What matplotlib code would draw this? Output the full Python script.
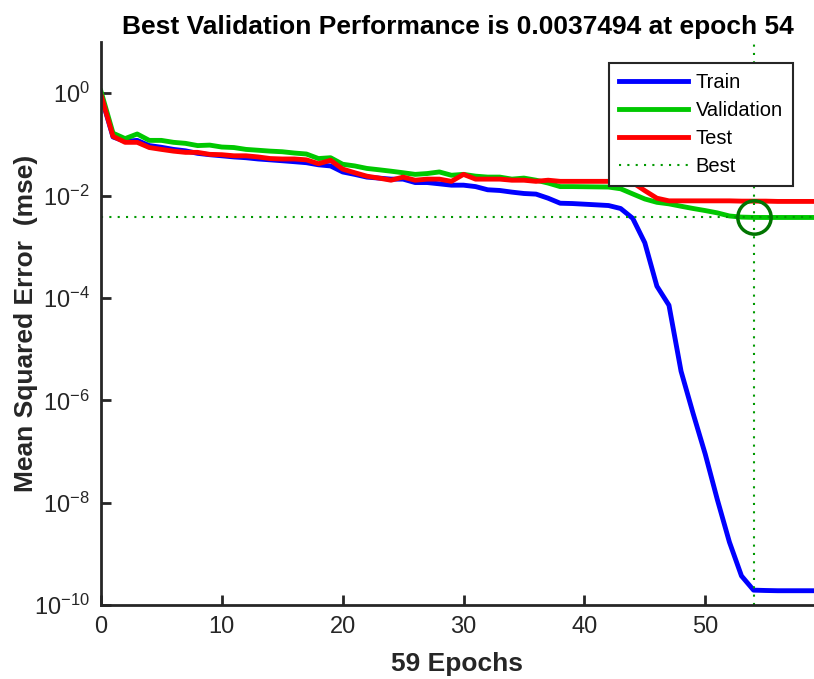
import numpy as np
import matplotlib
matplotlib.use("Agg")
import matplotlib.pyplot as plt
from matplotlib import font_manager

plt.rcParams['font.family'] = ['Liberation Sans', 'DejaVu Sans']

# narrow face for the tick numbers if it is there
names = {f.name for f in font_manager.fontManager.ttflist}
tick_font = 'Liberation Sans Narrow' if 'Liberation Sans Narrow' in names else 'Liberation Sans'
plt.rcParams['mathtext.fontset'] = 'custom'
plt.rcParams['mathtext.rm'] = tick_font
plt.rcParams['mathtext.default'] = 'regular'

# training record (mse per epoch)
epochs = np.arange(0, 60)
train = [0.9, 0.14, 0.115, 0.12, 0.095, 0.088, 0.08, 0.075, 0.067, 0.063,
         0.06, 0.057, 0.055, 0.052, 0.05, 0.048, 0.046, 0.044, 0.04, 0.038,
         0.029, 0.026, 0.023, 0.022, 0.021, 0.021, 0.018, 0.018, 0.017, 0.016,
         0.016, 0.015, 0.013, 0.0126, 0.0117, 0.011, 0.0107, 0.0089, 0.0071, 0.007,
         0.0068, 0.0066, 0.0064, 0.0056, 0.0036, 0.0012, 1.7e-4, 7.2e-5, 3.7e-6, 5.5e-7,
         8.9e-8, 1.15e-8, 1.7e-9, 3.7e-10, 1.95e-10, 1.92e-10, 1.9e-10, 1.9e-10, 1.9e-10, 1.9e-10]
val = [1.1, 0.166, 0.13, 0.16, 0.12, 0.12, 0.11, 0.105, 0.095, 0.097,
       0.089, 0.087, 0.08, 0.077, 0.074, 0.072, 0.068, 0.065, 0.053, 0.055,
       0.041, 0.038, 0.034, 0.032, 0.030, 0.028, 0.026, 0.027, 0.029, 0.025,
       0.026, 0.024, 0.023, 0.023, 0.021, 0.022, 0.020, 0.0176, 0.015, 0.015,
       0.0149, 0.0148, 0.0147, 0.0136, 0.0108, 0.0086, 0.0074, 0.0069, 0.0062, 0.0056,
       0.0051, 0.0046, 0.0040, 0.0038, 0.0037494, 0.00374, 0.00374, 0.00374, 0.00374, 0.00374]
test = [0.93, 0.144, 0.11, 0.11, 0.087, 0.08, 0.074, 0.07, 0.07, 0.064,
        0.063, 0.06, 0.06, 0.057, 0.053, 0.052, 0.052, 0.05, 0.042, 0.049,
        0.033, 0.028, 0.024, 0.022, 0.020, 0.023, 0.020, 0.021, 0.021, 0.019,
        0.026, 0.021, 0.021, 0.021, 0.020, 0.020, 0.019, 0.020, 0.019, 0.019,
        0.019, 0.019, 0.019, 0.019, 0.018, 0.0125, 0.0089, 0.0079, 0.0079, 0.0079,
        0.0079, 0.0079, 0.0079, 0.0078, 0.0078, 0.0078, 0.0077, 0.0077, 0.0077, 0.0077]
best_epoch = 54
best_perf = 0.0037494

fig = plt.figure(figsize=(8.14, 6.79), dpi=100)
ax = fig.add_axes([0.124, 0.109, 0.876, 0.829])

ax.semilogy(epochs, train, color='#0000ff', lw=3.5, label='Train')
ax.semilogy(epochs, val, color='#00c800', lw=3.5, label='Validation')
ax.semilogy(epochs, test, color='#ff0000', lw=3.5, label='Test')
ax.axhline(best_perf, color='#009900', lw=1.5, ls=(0, (1, 3)), label='Best')
ax.axvline(best_epoch, color='#009900', lw=1.5, ls=(0, (1, 3)))
ax.plot(best_epoch, best_perf, 'o', mfc='none', mec='#007500', ms=24, mew=2.5)

ax.set_xlim(0, 59)
ax.set_ylim(1e-10, 10)
ax.set_xticks([0, 10, 20, 30, 40, 50])
ax.set_yticks([1e-10, 1e-8, 1e-6, 1e-4, 1e-2, 1e0])
ax.yaxis.set_minor_locator(matplotlib.ticker.NullLocator())

for s in ['top', 'right']:
    ax.spines[s].set_visible(False)
for s in ['left', 'bottom']:
    ax.spines[s].set_linewidth(2)
    ax.spines[s].set_color('#262626')
ax.tick_params(direction='in', length=7, width=2, labelsize=17, colors='#262626', pad=8)
for lab in ax.get_xticklabels() + ax.get_yticklabels():
    lab.set_family(tick_font)

ax.set_title('Best Validation Performance is 0.0037494 at epoch 54',
             fontsize=19, fontweight='bold', pad=6)
ax.set_xlabel('59 Epochs', fontsize=19, fontweight='bold', color='#262626', labelpad=10)
ax.set_ylabel('Mean Squared Error  (mse)', fontsize=19, fontweight='bold', color='#262626',
              labelpad=-3)

leg = ax.legend(loc='upper right', bbox_to_anchor=(0.9705, 0.963), borderaxespad=0,
                fontsize=14.5, fancybox=False, framealpha=1, edgecolor='#262626',
                handlelength=3.4, borderpad=0.5, labelspacing=0.45, handletextpad=0.4)
leg.get_frame().set_linewidth(1.5)

fig.savefig('out.png', dpi=100)
